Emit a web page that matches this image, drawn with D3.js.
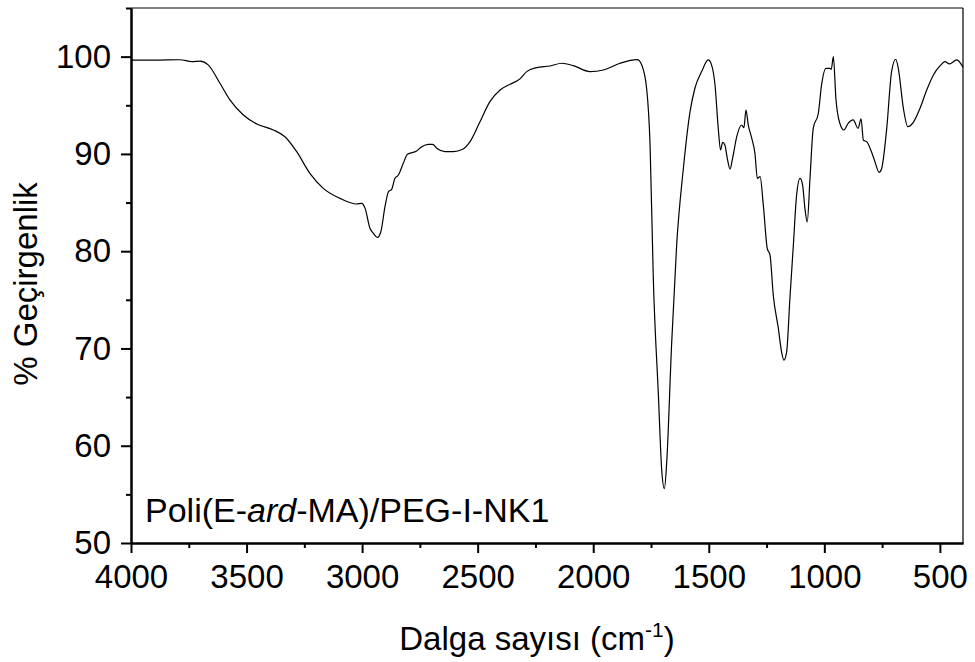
<!DOCTYPE html>
<meta charset="utf-8" />

<head>
  <style>
    body {
      margin: 0;
      background: #fff;
    }

    svg text {
      font-family: "Liberation Sans", Arial, sans-serif;
      fill: #000;
    }

    .axis .domain {
      stroke: #000;
      stroke-width: 2;
    }

    .axis g.tick line {
      stroke: #000;
      stroke-width: 2;
    }

    .axis g.tick text {
      font-size: 33px;
    }
  </style>
</head>

<script src="https://d3js.org/d3.v7.min.js"></script>

<body>
  <div id="chart"></div>
  <script>
    // FTIR spectrum, one black line, x axis reversed (wavenumber)

    ////////////////////////////////////
    ///////////// Data /////////////////
    ////////////////////////////////////

    // wavenumber (cm-1)
    const waveNumbers = [
      4000, 3900, 3788, 3737, 3701, 3666, 3615, 3572, 3514, 3456, 3384, 3334,
      3283, 3226, 3168, 3096, 3023, 3002, 2987, 2966, 2951, 2934, 2919, 2901,
      2886, 2872, 2858, 2843, 2822, 2804, 2764, 2742, 2714, 2695, 2677, 2641,
      2605, 2565, 2533, 2490, 2447, 2403, 2360, 2317, 2288, 2245, 2187, 2136,
      2086, 2014, 1956, 1884, 1809, 1790, 1769, 1754, 1740, 1718, 1704, 1692,
      1682, 1661, 1639, 1610, 1581, 1560, 1531, 1502, 1488, 1473, 1459, 1449,
      1440, 1430, 1420, 1408, 1397, 1379, 1358, 1348, 1339, 1329, 1314, 1300,
      1290, 1278, 1264, 1247, 1235, 1221, 1199, 1185, 1175, 1163, 1149, 1134,
      1120, 1105, 1094, 1084, 1074, 1062, 1048, 1026, 1012, 993, 976, 970,
      961, 950, 933, 915, 897, 875, 854, 841, 831, 817, 799, 781, 763, 752,
      730, 709, 691, 680, 658, 639, 615, 586, 557, 528, 499, 478, 459, 427,
      406, 400,
    ];

    // % transmittance at each wavenumber
    const transmittance = [
      99.65, 99.64, 99.68, 99.49, 99.53, 99.15, 97.26, 95.55, 94.0, 93.08,
      92.46, 91.77, 90.23, 88.0, 86.46, 85.43, 84.85, 84.92, 84.4, 82.35,
      81.83, 81.42, 82.0, 84.57, 86.11, 86.36, 87.49, 87.83, 89.03, 89.96,
      90.3, 90.74, 90.99, 90.99, 90.58, 90.23, 90.23, 90.47, 91.26, 93.31,
      95.37, 96.57, 97.16, 97.71, 98.46, 98.87, 99.04, 99.32, 99.07, 98.46,
      98.63, 99.32, 99.69, 99.15, 96.75, 90.9, 77.2, 65.2, 57.65, 55.6, 58.3,
      70.34, 80.63, 88.5, 94.34, 96.75, 98.46, 99.66, 99.15, 97.09, 92.63,
      90.4, 91.19, 90.9, 89.55, 88.44, 89.55, 91.77, 92.97, 92.7, 94.5, 92.97,
      91.6, 90.0, 87.49, 87.66, 84.74, 80.29, 79.6, 75.5, 72.06, 69.65, 68.8,
      69.65, 75.14, 80.63, 85.77, 87.49, 86.8, 84.4, 83.0, 87.49, 92.63,
      94.18, 97.09, 98.8, 98.8, 98.7, 100.0, 95.7, 93.15, 92.46, 93.15, 93.5,
      92.63, 93.6, 91.4, 91.26, 90.4, 89.2, 88.1, 88.5, 92.63, 98.46, 99.73,
      98.8, 94.69, 92.8, 93.25, 94.69, 96.57, 98.12, 99.07, 99.49, 99.25,
      99.66, 99.15, 98.9,
    ];

    // tick values
    const xMajorTicks = [4000, 3500, 3000, 2500, 2000, 1500, 1000, 500];
    const xMinorTicks = [3750, 3250, 2750, 2250, 1750, 1250, 750];
    const yMajorTicks = [50, 60, 70, 80, 90, 100];
    const yMinorTicks = [55, 65, 75, 85, 95, 105];

    const sampleLabel = ["Poli(E-", "ard", "-MA)/PEG-I-NK1"];

    ////////////////////////////////////
    ///////////// SVG Setup ////////////
    ////////////////////////////////////

    const svgWidth = 975;
    const svgHeight = 662;

    const margin = { left: 131, right: 12, top: 8, bottom: 119 };

    const width = svgWidth - margin.left - margin.right;
    const height = svgHeight - margin.top - margin.bottom;

    const svg = d3
      .select("#chart")
      .append("svg")
      .attr("width", svgWidth)
      .attr("height", svgHeight)
      .append("g")
      .attr("transform", "translate(" + margin.left + "," + margin.top + ")");

    ////////////////////////////////////
    ///////////// Scales ///////////////
    ////////////////////////////////////

    const xScale = d3.scaleLinear().domain([4000, 400]).range([0, width]);
    const yScale = d3.scaleLinear().domain([50, 105]).range([height, 0]);

    // top and right frame lines
    svg
      .append("line")
      .attr("x1", 0)
      .attr("x2", width)
      .attr("y1", 0)
      .attr("y2", 0)
      .attr("stroke", "#000")
      .attr("stroke-width", 1);

    svg
      .append("line")
      .attr("x1", width)
      .attr("x2", width)
      .attr("y1", 0)
      .attr("y2", height)
      .attr("stroke", "#000")
      .attr("stroke-width", 1.2);

    // minor ticks first, no labels
    svg
      .append("g")
      .attr("class", "axis")
      .attr("transform", "translate(0," + height + ")")
      .call(
        d3.axisBottom(xScale).tickValues(xMinorTicks).tickSize(5).tickSizeOuter(0).tickFormat("")
      );

    svg
      .append("g")
      .attr("class", "axis")
      .call(
        d3.axisLeft(yScale).tickValues(yMinorTicks).tickSize(5).tickSizeOuter(0).tickFormat("")
      );

    // major ticks with labels
    svg
      .append("g")
      .attr("class", "axis")
      .attr("transform", "translate(0," + height + ")")
      .call(
        d3
          .axisBottom(xScale)
          .tickValues(xMajorTicks)
          .tickSize(10)
          .tickSizeOuter(0)
          .tickPadding(12)
          .tickFormat(d3.format("d"))
      );

    svg
      .append("g")
      .attr("class", "axis")
      .call(
        d3
          .axisLeft(yScale)
          .tickValues(yMajorTicks)
          .tickSize(10)
          .tickSizeOuter(0)
          .tickPadding(10)
          .tickFormat(d3.format("d"))
      );

    d3.selectAll(".axis text").attr("fill", "#000");

    ////////////////////////////////////
    ///////////// Draw line ////////////
    ////////////////////////////////////

    const spectrum = waveNumbers.map((w, i) => ({ w: w, t: transmittance[i] }));

    const line = d3
      .line()
      .x((d) => xScale(d.w))
      .y((d) => yScale(d.t))
      .curve(d3.curveMonotoneX);

    svg
      .append("path")
      .datum(spectrum)
      .attr("fill", "none")
      .attr("stroke", "#000")
      .attr("stroke-width", 1.2)
      .attr("d", line);

    ////////////////////////////////////
    ///////////// Peripherals //////////
    ////////////////////////////////////

    // sample label inside the plot
    const label = svg
      .append("text")
      .attr("x", 14)
      .attr("y", height - 21)
      .attr("font-size", "34px");
    label.append("tspan").text(sampleLabel[0]);
    label.append("tspan").attr("font-style", "italic").text(sampleLabel[1]);
    label.append("tspan").text(sampleLabel[2]);

    // x axis title
    const xTitle = svg
      .append("text")
      .attr("x", 406)
      .attr("y", height + 107)
      .attr("text-anchor", "middle")
      .attr("font-size", "33px");
    xTitle.append("tspan").text("Dalga sayısı (cm");
    xTitle.append("tspan").attr("font-size", "21px").attr("dy", -13).text("-1");
    xTitle.append("tspan").attr("dy", 13).text(")");

    // y axis title
    svg
      .append("text")
      .attr("transform", "translate(" + (37 - margin.left) + "," + (284 - margin.top) + ") rotate(-90)")
      .attr("text-anchor", "middle")
      .attr("font-size", "33px")
      .text("% Geçirgenlik");
  </script>
</body>
